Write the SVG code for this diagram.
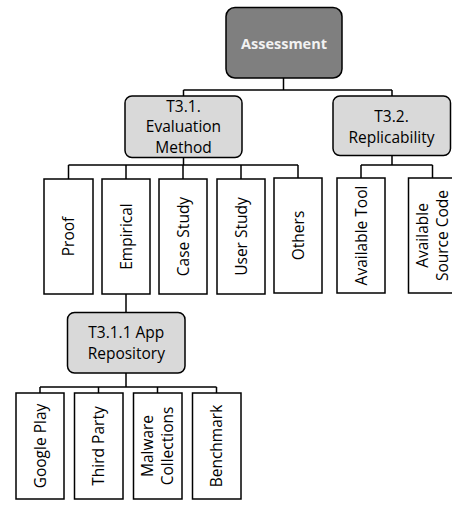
<svg xmlns="http://www.w3.org/2000/svg" width="452" height="509" viewBox="0 0 452 509">
<style>
text{font-family:"Open Sans","Noto Sans","DejaVu Sans",sans-serif;font-size:15.5px;fill:#000;text-anchor:middle}
.box{stroke:#000;stroke-width:1.5}
.root{fill:#7f7f7f}
.cat{fill:#d9d9d9}
.leaf{fill:#fff}
.conn{stroke:#000;stroke-width:1.5;fill:none}
.bold{font-weight:700;fill:#f2f2f2;font-size:14.5px}
</style>
<rect width="452" height="509" fill="#fff"/>
<g id="connectors" class="conn">
<path d="M283.5 78V90M183.5 90H392M183.5 90V96M392 90V96"/>
<path d="M183.5 157V165M68.5 165H298M68.5 165V179M126 165V179M183 165V179M241 165V179M298 165V178"/>
<path d="M392 156V165M361 165H432.5M361 165V178M432.5 165V178"/>
<path d="M126 294V313"/>
<path d="M126 373V387M40 387H216.5M40 387V393M98.5 387V393M157.5 387V393M216.5 387V393"/>
</g>
<g id="assessment"><rect class="box root" x="226" y="7.5" width="116" height="70.5" rx="9"/><text class="bold" x="284" y="48.5">Assessment</text></g>
<g id="t31"><rect class="box cat" x="125" y="96" width="117" height="61.5" rx="7"/><text x="183.5" y="111.5">T3.1.</text><text x="183.5" y="132">Evaluation</text><text x="183.5" y="152.5">Method</text></g>
<g id="t32"><rect class="box cat" x="333" y="96" width="117.5" height="59.5" rx="7"/><text x="391.5" y="122.3">T3.2.</text><text x="391.5" y="142.7">Replicability</text></g>
<g id="proof"><rect class="box leaf" x="44" y="179" width="49" height="115"/><text transform="translate(68.5 236.5) rotate(-90)" y="5.5">Proof</text></g>
<g id="empirical"><rect class="box leaf" x="102" y="179" width="48" height="115"/><text transform="translate(126 236.5) rotate(-90)" y="5.5">Empirical</text></g>
<g id="casestudy"><rect class="box leaf" x="159" y="179" width="48" height="115"/><text transform="translate(183 236.5) rotate(-90)" y="5.5">Case Study</text></g>
<g id="userstudy"><rect class="box leaf" x="217" y="179" width="48" height="115"/><text transform="translate(241 236.5) rotate(-90)" y="5.5">User Study</text></g>
<g id="others"><rect class="box leaf" x="274" y="178" width="48" height="115"/><text transform="translate(298 235.5) rotate(-90)" y="5.5">Others</text></g>
<g id="availabletool"><rect class="box leaf" x="337" y="178" width="48" height="115"/><text transform="translate(361 235.5) rotate(-90)" y="5.5">Available Tool</text></g>
<g id="availablesource"><rect class="box leaf" x="408.5" y="178" width="48" height="115"/><text transform="translate(432.5 235.5) rotate(-90)"><tspan x="0" y="-4.5">Available</tspan><tspan x="0" y="15.5">Source Code</tspan></text></g>
<g id="t311"><rect class="box cat" x="67.5" y="312.5" width="117.5" height="60.5" rx="7"/><text x="126.3" y="337.8">T3.1.1 App</text><text x="126.3" y="358.5">Repository</text></g>
<g id="googleplay"><rect class="box leaf" x="16" y="393" width="48" height="106"/><text transform="translate(40 446) rotate(-90)" y="5.5">Google Play</text></g>
<g id="thirdparty"><rect class="box leaf" x="74.5" y="393" width="48.5" height="106"/><text transform="translate(98.7 446) rotate(-90)" y="5.5">Third Party</text></g>
<g id="malware"><rect class="box leaf" x="133.5" y="393" width="48.5" height="106"/><text transform="translate(157.7 446) rotate(-90)"><tspan x="0" y="-4.5">Malware</tspan><tspan x="0" y="15.5">Collections</tspan></text></g>
<g id="benchmark"><rect class="box leaf" x="192.5" y="393" width="48.5" height="106"/><text transform="translate(216.7 446) rotate(-90)" y="5.5">Benchmark</text></g>
</svg>
